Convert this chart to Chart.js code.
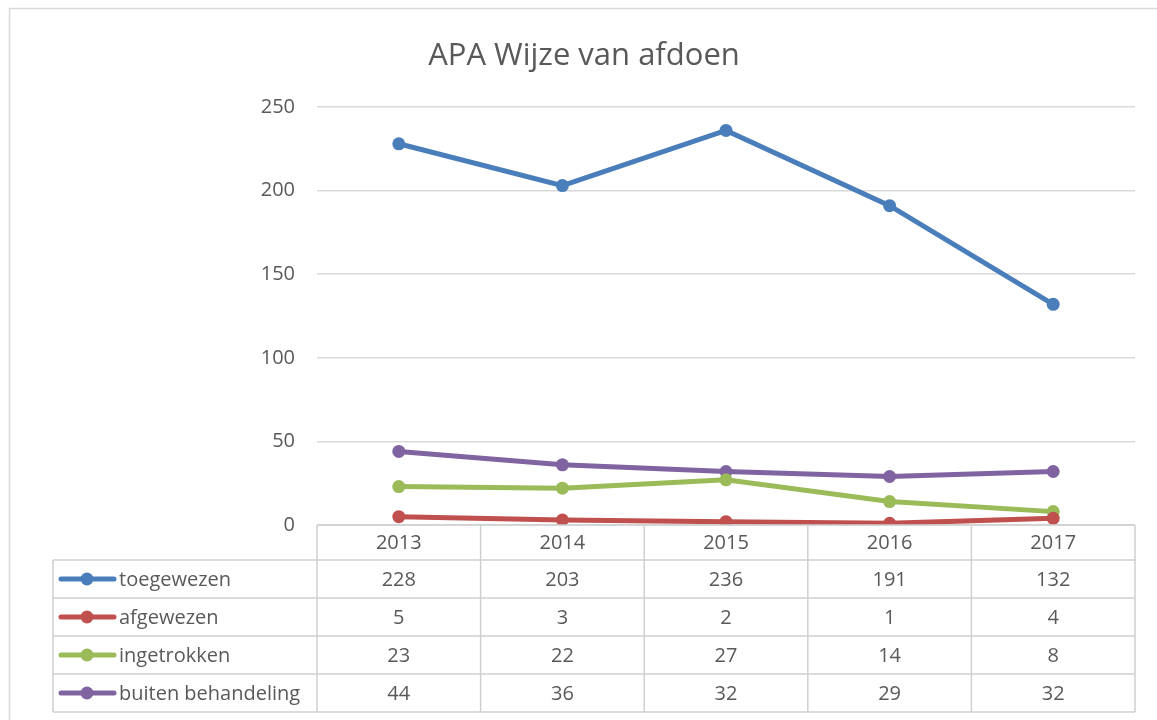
<!DOCTYPE html>
<html>
<head>
<meta charset="utf-8">
<script src="https://cdn.jsdelivr.net/npm/chart.js"></script>
<style>
  body { margin: 0; background: #fff; }
  canvas { display: block; }
</style>
</head>
<body>
<canvas id="mainChart" width="1157" height="720"></canvas>
<script>
const chartTitle = 'APA Wijze van afdoen';
const years = ['2013', '2014', '2015', '2016', '2017'];
const toegewezen = [228, 203, 236, 191, 132];
const afgewezen = [5, 3, 2, 1, 4];
const ingetrokken = [23, 22, 27, 14, 8];
const buitenBehandeling = [44, 36, 32, 29, 32];
const seriesNames = ['toegewezen', 'afgewezen', 'ingetrokken', 'buiten behandeling'];
const seriesColors = ['#4a7ebb', '#c0504d', '#9bbb59', '#8064a2'];
const yTicks = [0, 50, 100, 150, 200, 250];

const textColor = '#595959';
const gridColor = '#d9d9d9';
const fontFamily = '"Open Sans", "Liberation Sans", sans-serif';

const seriesValues = [toegewezen, afgewezen, ingetrokken, buitenBehandeling];

// titel, rand en datatabel onder de grafiek
const tablePlugin = {
    id: 'dataTable',
    afterDraw(chart) {
        const ctx = chart.ctx;
        const x = chart.scales.x;
        const area = chart.chartArea;
        const colW = (area.right - area.left) / years.length;
        const headTop = area.bottom;
        const headH = 35;
        const rowH = 38;
        const legendLeft = 53;

        ctx.save();
        // buitenrand
        ctx.strokeStyle = gridColor;
        ctx.lineWidth = 1.5;
        ctx.strokeRect(9.5, 8.5, 1300, 900);

        // titel
        ctx.fillStyle = textColor;
        ctx.font = '31px ' + fontFamily;
        ctx.textAlign = 'center';
        ctx.textBaseline = 'alphabetic';
        ctx.fillText(chartTitle, 584, 65);

        // tabelraster
        ctx.strokeStyle = '#d0d0d0';
        ctx.lineWidth = 1.5;
        const rowsTop = headTop + headH;
        const tableBottom = rowsTop + rowH * seriesNames.length;
        ctx.beginPath();
        ctx.moveTo(area.left, headTop);
        ctx.lineTo(area.right, headTop);
        for (let r = 0; r <= seriesNames.length; r++) {
            const yy = rowsTop + r * rowH;
            ctx.moveTo(legendLeft, yy);
            ctx.lineTo(area.right, yy);
        }
        ctx.moveTo(legendLeft, rowsTop);
        ctx.lineTo(legendLeft, tableBottom);
        for (let c = 0; c <= years.length; c++) {
            const xx = area.left + c * colW;
            ctx.moveTo(xx, headTop);
            ctx.lineTo(xx, tableBottom);
        }
        ctx.stroke();

        // koppen en waarden
        ctx.font = '20px ' + fontFamily;
        ctx.fillStyle = textColor;
        ctx.textAlign = 'center';
        ctx.textBaseline = 'middle';
        years.forEach((yr, i) => {
            const cx = x.getPixelForValue(i);
            ctx.fillText(yr, cx, headTop + headH / 2 + 1);
            seriesValues.forEach((vals, s) => {
                ctx.fillText(String(vals[i]), cx, rowsTop + s * rowH + rowH / 2 + 1);
            });
        });

        // legenda in de eerste kolom
        seriesNames.forEach((name, s) => {
            const cy = rowsTop + s * rowH + rowH / 2;
            ctx.strokeStyle = seriesColors[s];
            ctx.lineWidth = 5;
            ctx.lineCap = 'round';
            ctx.beginPath();
            ctx.moveTo(61, cy);
            ctx.lineTo(114, cy);
            ctx.stroke();
            ctx.fillStyle = seriesColors[s];
            ctx.beginPath();
            ctx.arc(87, cy, 6.5, 0, Math.PI * 2);
            ctx.fill();
            ctx.fillStyle = textColor;
            ctx.textAlign = 'left';
            ctx.fillText(name, 119, cy + 1);
        });
        ctx.restore();
    }
};

new Chart(document.getElementById('mainChart'), {
    type: 'line',
    data: {
        labels: years,
        datasets: seriesNames.map((name, s) => ({
            label: name,
            data: seriesValues[s],
            borderColor: seriesColors[s],
            backgroundColor: seriesColors[s],
            borderWidth: 5,
            pointRadius: 6.5,
            pointHoverRadius: 6.5,
            pointBorderWidth: 0,
            tension: 0
        }))
    },
    options: {
        responsive: false,
        animation: false,
        layout: { padding: { left: 0, right: 22, top: 107, bottom: 195 } },
        plugins: {
            legend: { display: false },
            title: { display: false },
            tooltip: { enabled: false }
        },
        scales: {
            x: {
                display: false,
                offset: true
            },
            y: {
                min: 0,
                max: 250,
                afterFit(scale) { scale.width = 317; },
                afterBuildTicks(scale) { scale.ticks = yTicks.map(v => ({ value: v })); },
                border: { display: false },
                grid: { color: gridColor, lineWidth: 1.5, drawTicks: false },
                ticks: {
                    padding: 22,
                    color: textColor,
                    font: { family: fontFamily, size: 20 }
                }
            }
        }
    },
    plugins: [tablePlugin]
});
</script>
</body>
</html>
